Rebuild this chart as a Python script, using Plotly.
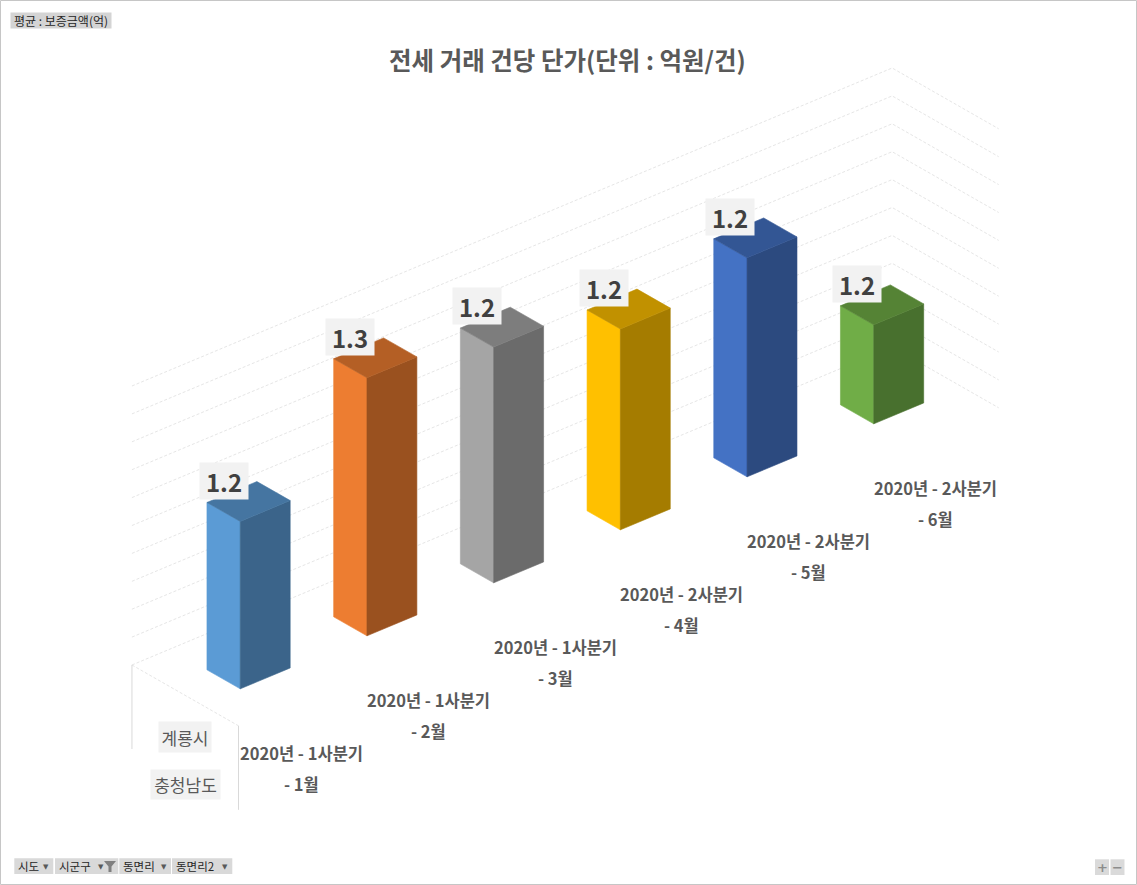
import plotly.graph_objects as go

# ---------------- data ----------------
periods = ["2020년 - 1사분기", "2020년 - 1사분기", "2020년 - 1사분기",
           "2020년 - 2사분기", "2020년 - 2사분기", "2020년 - 2사분기"]
months = ["- 1월", "- 2월", "- 3월", "- 4월", "- 5월", "- 6월"]
values = [1.200, 1.265, 1.249, 1.224, 1.237, 1.151]
region_city = "계룡시"
region_province = "충청남도"
bar_colors = ["#5B9BD5", "#ED7D31", "#A5A5A5", "#FFC000", "#4472C4", "#70AD47"]
chart_title = "전세 거래 건당 단가(단위 : 억원/건)"
value_label = "평균 : 보증금액(억)"
field_buttons = ["시도", "시군구", "동면리", "동면리2"]
axis_min, axis_max, axis_step = 1.08, 1.28, 0.02

# ---------------- projection / style ----------------
W, H = 1137, 885
FONT = "Noto Sans CJK KR"
ORIGIN = (238.5, 725.8)      # floor front-left corner at axis minimum
EX = (126.7, -53.0)          # one category step
EY = (-33.3, -19.0)          # one unit of depth (toward the back)
EZ = -1395.0                 # screen units per value unit
FLOOR_DEPTH = 3.2
BAR_W = 0.394
BAR_D = 1.0


def proj(x, y, z):
    return (ORIGIN[0] + x * EX[0] + y * EY[0],
            ORIGIN[1] + x * EX[1] + y * EY[1] + (z - axis_min) * EZ)


def shade(hexcol, f):
    h = hexcol.lstrip("#")
    r, g, b = (int(h[i:i + 2], 16) for i in (0, 2, 4))
    return "#%02x%02x%02x" % (int(r * f), int(g * f), int(b * f))


n = len(values)
fig = go.Figure()

# ---- gridlines: back wall + right side wall ----
gx, gy = [], []
nsteps = int(round((axis_max - axis_min) / axis_step))
for k in range(nsteps + 1):
    z = axis_min + k * axis_step
    p0 = proj(0, FLOOR_DEPTH, z)
    p1 = proj(n, FLOOR_DEPTH, z)
    p2 = proj(n, 0, z)
    gx += [p0[0], p1[0], p2[0], None]
    gy += [p0[1], p1[1], p2[1], None]
# floor left edge
a = proj(0, FLOOR_DEPTH, axis_min)
b = proj(0, 0, axis_min)
gx += [a[0], b[0], None]
gy += [a[1], b[1], None]
fig.add_trace(go.Scatter(x=gx, y=gy, mode="lines",
                         line=dict(color="#e6e6e6", width=1, dash="3px,2px"),
                         hoverinfo="skip", showlegend=False))

# divider lines of the outer category labels
dx_, dy_ = [], []
for p in (a, b):
    dx_ += [p[0], p[0], None]
    dy_ += [p[1], p[1] + 84, None]
fig.add_trace(go.Scatter(x=dx_, y=dy_, mode="lines",
                         line=dict(color="#d9d9d9", width=1),
                         hoverinfo="skip", showlegend=False))

# ---- 3D bars ----
y0 = (FLOOR_DEPTH - BAR_D) / 2
y1 = y0 + BAR_D
for i in reversed(range(n)):
    v = values[i]
    x0 = i + 0.5 - BAR_W / 2
    x1 = i + 0.5 + BAR_W / 2
    base = bar_colors[i]
    faces = [
        ([(x0, y0, axis_min), (x0, y1, axis_min), (x0, y1, v), (x0, y0, v)], base),
        ([(x0, y0, axis_min), (x1, y0, axis_min), (x1, y0, v), (x0, y0, v)], shade(base, 0.65)),
        ([(x0, y0, v), (x1, y0, v), (x1, y1, v), (x0, y1, v)], shade(base, 0.76)),
    ]
    for pts, col in faces:
        pp = [proj(*p) for p in pts] + [proj(*pts[0])]
        fig.add_trace(go.Scatter(x=[p[0] for p in pp], y=[p[1] for p in pp],
                                 mode="lines", fill="toself", fillcolor=col,
                                 line=dict(color=col, width=0.6),
                                 hoverinfo="skip", showlegend=False))

annotations = []
# data labels
for i, v in enumerate(values):
    px, py = proj(i + 0.5, FLOOR_DEPTH / 2, v)
    annotations.append(dict(x=px, y=py, xshift=-25, yshift=21, text=f"{v:.1f}",
                            showarrow=False, bgcolor="#f2f2f2", width=48, height=36,
                            borderpad=0, xanchor="center", yanchor="middle",
                            font=dict(family=FONT, size=24, color="#404040", weight="bold")))
# category labels
for i in range(n):
    px, py = proj(i + 0.5, 0, axis_min)
    annotations.append(dict(x=px, y=py, yshift=-53.6, text=periods[i], showarrow=False,
                            xanchor="center", yanchor="middle",
                            font=dict(family=FONT, size=16.5, color="#595959", weight="bold")))
    annotations.append(dict(x=px, y=py, yshift=-84.6, text=months[i], showarrow=False,
                            xanchor="center", yanchor="middle",
                            font=dict(family=FONT, size=16.5, color="#595959", weight="bold")))
# outer labels
mx, my = proj(0, FLOOR_DEPTH / 2, axis_min)
annotations.append(dict(x=mx, y=my, yshift=-42, text=region_city, showarrow=False,
                        bgcolor="#f2f2f2", width=52, height=30, borderpad=0,
                        font=dict(family=FONT, size=17, color="#595959")))
annotations.append(dict(x=mx, y=my, yshift=-89, text=region_province, showarrow=False,
                        bgcolor="#f2f2f2", width=69, height=29, borderpad=0,
                        font=dict(family=FONT, size=17, color="#595959")))
# title
annotations.append(dict(x=W / 2 - 1, y=59, text=chart_title, showarrow=False,
                        xanchor="center", yanchor="middle",
                        font=dict(family=FONT, size=24.5, color="#595959", weight="bold")))
# value field button (top-left)
annotations.append(dict(x=61, y=20, text=value_label, showarrow=False,
                        bgcolor="#d4d4d4", width=100, height=15, borderpad=0,
                        font=dict(family=FONT, size=12, color="#262626")))

shapes = []
# field buttons (bottom-left)
btn_x = [(14.3, 53.3), (55, 118.3), (119.3, 171), (172, 232.3)]
for (bx0, bx1), lab in zip(btn_x, field_buttons):
    shapes.append(dict(type="rect", x0=bx0, x1=bx1, y0=858.3, y1=874, fillcolor="#d9d9d9",
                       line=dict(width=0), layer="below"))
    annotations.append(dict(x=bx0 + 1.5, y=866.2, text=lab, showarrow=False, xanchor="left",
                            yanchor="middle", font=dict(family=FONT, size=11.5, color="#262626")))
    ax = bx1 - 7 if lab != "시군구" else bx1 - 17
    annotations.append(dict(x=ax, y=866.5, text="▼", showarrow=False, xanchor="center",
                            yanchor="middle", font=dict(family="DejaVu Sans", size=7, color="#595959")))
# funnel icon on 시군구
shapes.append(dict(type="path", path="M 104 861 L 116 861 L 111.5 866.5 L 111.5 872 L 108.5 872 L 108.5 866.5 Z",
                   fillcolor="#7f7f7f", line=dict(width=0)))
# + / - buttons
for (bx0, bx1), sym in zip([(1095, 1109), (1110.5, 1124.5)], ["+", "−"]):
    shapes.append(dict(type="rect", x0=bx0, x1=bx1, y0=859.3, y1=875, fillcolor="#dadada",
                       line=dict(width=0), layer="below"))
    annotations.append(dict(x=(bx0 + bx1) / 2, y=867, text=sym, showarrow=False,
                            font=dict(family="DejaVu Sans", size=13, color="#8c8c8c", weight="bold")))
# outer border
shapes.append(dict(type="rect", x0=0.5, x1=W - 0.5, y0=0.5, y1=H - 0.5,
                   line=dict(color="#c6c6c6", width=1), fillcolor="rgba(0,0,0,0)"))

fig.update_layout(
    width=W, height=H, margin=dict(l=0, r=0, t=0, b=0),
    paper_bgcolor="white", plot_bgcolor="white",
    xaxis=dict(range=[0, W], visible=False, fixedrange=True),
    yaxis=dict(range=[H, 0], visible=False, fixedrange=True),
    annotations=annotations, shapes=shapes, showlegend=False,
    font=dict(family=FONT),
)

fig.write_html("out.html", config={"displayModeBar": False},
               post_script="document.body.style.margin='0';document.body.style.overflow='hidden';")
